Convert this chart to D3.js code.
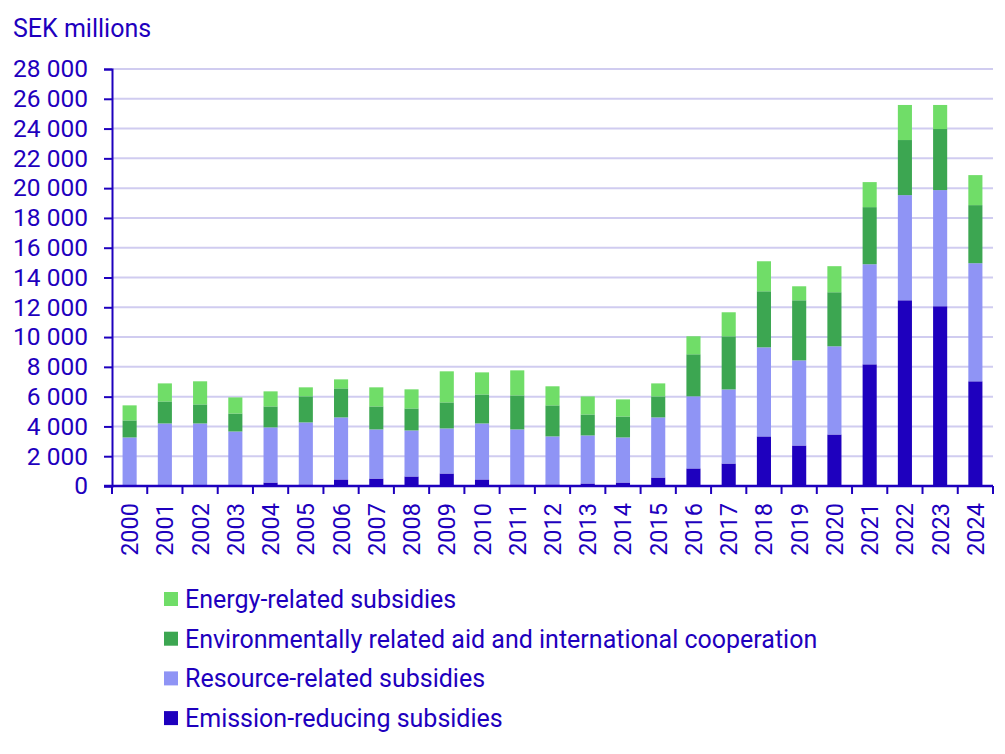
<!DOCTYPE html>
<html>
<head>
<meta charset="utf-8">
<script src="https://cdn.jsdelivr.net/npm/d3@7"></script>
<style>
  body { margin: 0; background: #fff; }
  text { font-family: Roboto, "Noto Sans", sans-serif; fill: #1e00be; }
</style>
</head>
<body>
<div id="chart"></div>
<script>
// values, SEK millions
const years = ['2000', '2001', '2002', '2003', '2004', '2005', '2006', '2007', '2008', '2009',
  '2010', '2011', '2012', '2013', '2014', '2015', '2016', '2017', '2018', '2019',
  '2020', '2021', '2022', '2023', '2024'];
const emission = [0, 0, 0, 0, 235, 100, 440, 500, 640, 840,
  440, 100, 100, 170, 235, 570, 1180, 1510, 3330, 2720,
  3460, 8170, 12470, 12070, 7030];
const resource = [3260, 4200, 4200, 3660, 3700, 4170, 4165, 3300, 3090, 3025,
  3760, 3700, 3230, 3225, 3025, 4035, 4840, 4975, 5980, 5715,
  5920, 6720, 7060, 7800, 7930];
const environment = [1145, 1480, 1280, 1210, 1410, 1750, 1950, 1545, 1480, 1750,
  1950, 2285, 2085, 1410, 1410, 1410, 2825, 3565, 3765, 4035,
  3630, 3835, 3700, 4100, 3900];
const energy = [1010, 1210, 1550, 1080, 1010, 605, 605, 1280, 1280, 2085,
  1480, 1680, 1280, 1210, 1145, 875, 1210, 1615, 2015, 940,
  1750, 1680, 2355, 1615, 2015];
const yTicks = [0, 2000, 4000, 6000, 8000, 10000, 12000, 14000, 16000, 18000,
  20000, 22000, 24000, 26000, 28000];

const seriesKeys = ['emission', 'resource', 'environment', 'energy'];
const seriesNames = {
  emission: 'Emission-reducing subsidies',
  resource: 'Resource-related subsidies',
  environment: 'Environmentally related aid and international cooperation',
  energy: 'Energy-related subsidies'
};
const colors = {
  emission: '#1e00be',
  resource: '#8f94f5',
  environment: '#3ca651',
  energy: '#70dd68'
};
const axisColor = '#1e00be';

const table = years.map((year, i) => ({
  year,
  emission: emission[i],
  resource: resource[i],
  environment: environment[i],
  energy: energy[i]
}));

const width = 1005;
const height = 754;
const margin = { top: 69, right: 12, bottom: 268, left: 112 };
const plotW = width - margin.left - margin.right;
const plotH = height - margin.top - margin.bottom;

const svg = d3.select('#chart')
  .append('svg')
  .attr('width', width)
  .attr('height', height);

const g = svg.append('g')
  .attr('transform', `translate(${margin.left},${margin.top})`);

const x = d3.scaleBand()
  .domain(years)
  .range([0, plotW])
  .paddingInner(0.6)
  .paddingOuter(0.3);

const y = d3.scaleLinear()
  .domain([0, 28000])
  .range([plotH, 0]);

// gridlines
g.append('g')
  .selectAll('line')
  .data(yTicks.filter(d => d > 0))
  .enter().append('line')
  .attr('x1', 0)
  .attr('x2', plotW)
  .attr('y1', d => y(d))
  .attr('y2', d => y(d))
  .attr('stroke', '#d0ccf0')
  .attr('stroke-width', 2);

// stacked bars
const stacked = d3.stack().keys(seriesKeys)(table);

g.append('g')
  .selectAll('g')
  .data(stacked)
  .enter().append('g')
  .attr('fill', d => colors[d.key])
  .selectAll('rect')
  .data(d => d)
  .enter().append('rect')
  .attr('x', d => x(d.data.year))
  .attr('width', x.bandwidth())
  .attr('y', d => y(d[1]))
  .attr('height', d => y(d[0]) - y(d[1]));

// y axis
const yAxis = g.append('g')
  .call(d3.axisLeft(y)
    .tickValues(yTicks)
    .tickSize(8)
    .tickPadding(16)
    .tickFormat(d => d3.format(',')(d).replace(/,/g, ' ')));

yAxis.select('.domain').attr('stroke', axisColor).attr('stroke-width', 2);
yAxis.selectAll('.tick line').attr('stroke', axisColor).attr('stroke-width', 2);
yAxis.selectAll('.tick text')
  .style('font-size', '24.5px')
  .attr('fill', axisColor);

// x axis: ticks sit on the band edges
const edges = d3.range(years.length + 1).map(i => i * x.step());

const xAxis = g.append('g')
  .attr('transform', `translate(0,${plotH})`);

xAxis.append('line')
  .attr('x1', -8)
  .attr('x2', plotW)
  .attr('stroke', axisColor)
  .attr('stroke-width', 2.5);

xAxis.selectAll('.edge')
  .data(edges)
  .enter().append('line')
  .attr('class', 'edge')
  .attr('x1', d => d)
  .attr('x2', d => d)
  .attr('y1', 0)
  .attr('y2', 8)
  .attr('stroke', axisColor)
  .attr('stroke-width', 2);

xAxis.selectAll('.label')
  .data(years)
  .enter().append('text')
  .attr('class', 'label')
  .attr('transform', d => `translate(${x(d) + x.bandwidth() / 2 + 8.5},17) rotate(-90)`)
  .attr('text-anchor', 'end')
  .style('font-size', '23.5px')
  .text(d => d);

// unit label
svg.append('text')
  .attr('x', 13)
  .attr('y', 37)
  .style('font-size', '25px')
  .text('SEK millions');

// legend, top to bottom in reverse stacking order
const legend = svg.append('g')
  .attr('transform', 'translate(164,599)')
  .selectAll('g')
  .data(seriesKeys.slice().reverse())
  .enter().append('g')
  .attr('transform', (d, i) => `translate(0,${i * 39.7})`);

legend.append('rect')
  .attr('x', 0)
  .attr('y', -7)
  .attr('width', 14)
  .attr('height', 14)
  .attr('fill', d => colors[d]);

legend.append('text')
  .attr('x', 21)
  .attr('y', 9)
  .style('font-size', '25px')
  .text(d => seriesNames[d]);
</script>
</body>
</html>
